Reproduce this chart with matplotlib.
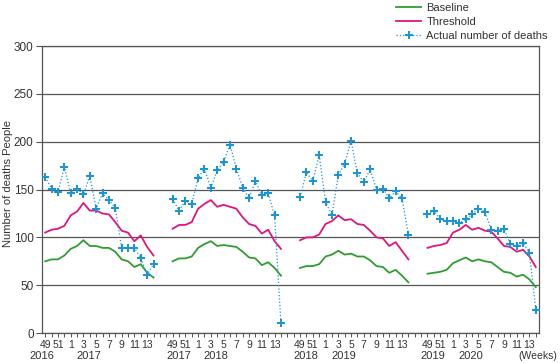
import numpy as np
import matplotlib
matplotlib.use('Agg')
import matplotlib.pyplot as plt
from matplotlib.transforms import blended_transform_factory

plt.rcParams['font.family'] = ['Liberation Sans', 'DejaVu Sans']

# weeks in each season (week 49 to week 14)
WEEKS = [49, 50, 51, 52] + list(range(1, 15))
TICK_WEEKS = [49, 51, 1, 3, 5, 7, 9, 11, 13]
SEASON_YEARS = [("2016", "2017"), ("2017", "2018"), ("2018", "2019"), ("2019", "2020")]

# values, one list per season
actual = [
    [163, 151, 147, 174, 146, 151, 145, 164, 130, 146, 139, 131, 89, 89, 89, 78, 61, 72],
    [140, 128, 138, 135, 162, 172, 152, 170, 179, 197, 172, 152, 141, 159, 144, 146, 123, 10],
    [142, 168, 159, 186, 137, 123, 165, 177, 201, 167, 158, 171, 150, 151, 141, 148, 141, 103],
    [124, 128, 119, 117, 117, 115, 119, 124, 130, 127, 108, 107, 109, 93, 91, 94, 84, 24],
]
threshold = [
    [105, 108, 109, 112, 123, 127, 136, 128, 128, 125, 124, 116, 107, 105, 96, 102, 90, 81],
    [109, 113, 113, 116, 130, 135, 139, 132, 134, 132, 130, 121, 114, 112, 104, 108, 96, 88],
    [97, 100, 100, 103, 114, 117, 123, 118, 119, 114, 113, 107, 100, 99, 91, 95, 86, 77],
    [89, 91, 92, 94, 105, 108, 113, 108, 110, 107, 106, 99, 91, 90, 85, 87, 80, 69],
]
baseline = [
    [75, 77, 77, 81, 88, 91, 97, 91, 91, 89, 89, 85, 77, 75, 69, 72, 63, 58],
    [75, 78, 78, 80, 89, 93, 96, 91, 92, 91, 90, 85, 79, 78, 71, 74, 68, 60],
    [68, 70, 70, 72, 80, 82, 86, 82, 83, 80, 80, 76, 70, 69, 63, 66, 60, 53],
    [62, 63, 64, 66, 73, 76, 79, 75, 77, 75, 74, 69, 64, 63, 59, 61, 56, 48],
]

GREEN = '#2e9e2e'
MAGENTA = '#e0157f'
BLUE = '#1b95d9'
GAP = 2  # empty category slots between seasons

fig = plt.figure(figsize=(5.6, 3.63), dpi=100)
ax = fig.add_axes([0.075, 0.0826, 0.8875, 0.7904])

for s in range(len(actual)):
    start = s * (len(WEEKS) + GAP)
    x = np.arange(start, start + len(WEEKS))
    ax.plot(x, baseline[s], color=GREEN, lw=1.3,
            label='Baseline' if s == 0 else None, zorder=3)
    ax.plot(x, threshold[s], color=MAGENTA, lw=1.3,
            label='Threshold' if s == 0 else None, zorder=3)
    ax.plot(x, actual[s], color=BLUE, lw=0.9, ls=':', marker='P', ms=5.5,
            markeredgewidth=0, label='Actual number of deaths' if s == 0 else None, zorder=4)

n_total = len(actual) * (len(WEEKS) + GAP) - GAP
ax.set_xlim(-0.5, n_total - 0.5)
ax.set_ylim(0, 300)
ax.set_yticks(np.arange(0, 301, 50))
ax.grid(axis='y', color='#555555', lw=0.9)
ax.set_axisbelow(True)

# week tick labels and year labels
ticks, labels = [], []
trans = blended_transform_factory(ax.transData, ax.transAxes)
for s, (y1, y2) in enumerate(SEASON_YEARS):
    start = s * (len(WEEKS) + GAP)
    for i, w in enumerate(WEEKS):
        if w in TICK_WEEKS:
            ticks.append(start + i)
            labels.append(str(w))
    ax.text(start + (-0.5 if s == 0 else 0.9), -0.062, y1, transform=trans,
            ha='center', va='top', fontsize=8, color='#333333')
    ax.text(start + 6.8, -0.062, y2, transform=trans,
            ha='center', va='top', fontsize=8, color='#333333')
ax.text(n_total - 0.7, -0.062, '(Weeks)', transform=trans,
        ha='center', va='top', fontsize=7.5, color='#333333')

ax.set_xticks(ticks)
ax.set_xticklabels(labels)
ax.set_xticks(np.arange(0, n_total), minor=True)
ax.tick_params(axis='x', which='both', length=3, width=0.7, color='#555555',
               labelsize=7.5, labelcolor='#333333', pad=2)
ax.tick_params(axis='y', length=4, width=0.8, color='#555555',
               labelsize=8.5, labelcolor='#333333', pad=2)

for side in ['left', 'right', 'bottom', 'top']:
    ax.spines[side].set_color('#555555')
    ax.spines[side].set_linewidth(0.9)

ax.set_ylabel('Number of deaths People', fontsize=8, color='#333333')
ax.yaxis.set_label_coords(-0.058, 0.52)

fig.legend(loc='upper left', bbox_to_anchor=(0.69, 1.02), frameon=False,
           fontsize=8, handlelength=2.2, labelspacing=0.35, handletextpad=0.5,
           labelcolor='#333333')

fig.savefig('out.png', dpi=100)
